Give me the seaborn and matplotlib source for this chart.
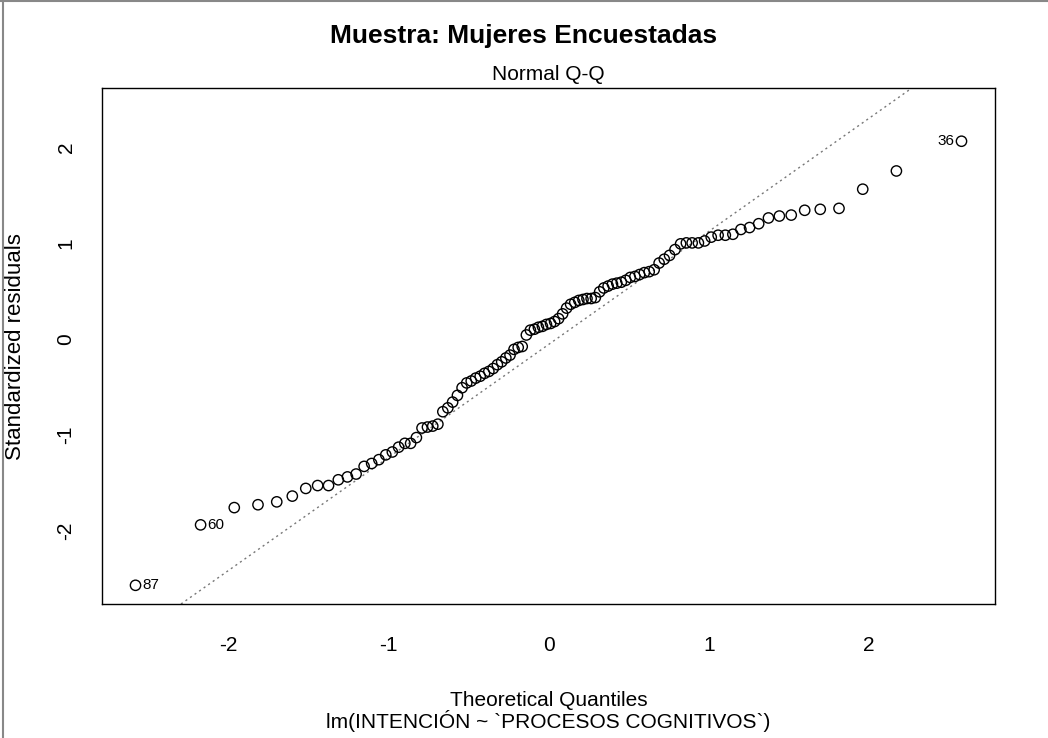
import matplotlib
matplotlib.use("Agg")
import matplotlib.pyplot as plt
import seaborn as sns
import pandas as pd
from matplotlib.lines import Line2D

# ---- data ----
theoretical_quantiles = [
    -2.576, -2.170, -1.960, -1.812, -1.695, -1.598, -1.514, -1.440, -1.372, -1.311,
    -1.254, -1.200, -1.150, -1.103, -1.058, -1.015, -0.974, -0.935, -0.896, -0.860,
    -0.824, -0.789, -0.755, -0.722, -0.690, -0.659, -0.628, -0.598, -0.568, -0.539,
    -0.510, -0.482, -0.454, -0.426, -0.399, -0.372, -0.345, -0.319, -0.292, -0.266,
    -0.240, -0.215, -0.189, -0.164, -0.138, -0.113, -0.088, -0.063, -0.038, -0.013,
    0.013, 0.038, 0.063, 0.088, 0.113, 0.138, 0.164, 0.189, 0.215, 0.240,
    0.266, 0.292, 0.319, 0.345, 0.372, 0.399, 0.426, 0.454, 0.482, 0.510,
    0.539, 0.568, 0.598, 0.628, 0.659, 0.690, 0.722, 0.755, 0.789, 0.824,
    0.860, 0.896, 0.935, 0.974, 1.015, 1.058, 1.103, 1.150, 1.200, 1.254,
    1.311, 1.372, 1.440, 1.514, 1.598, 1.695, 1.812, 1.960, 2.170, 2.576,
]
standardized_residuals = [
    -2.57, -1.94, -1.76, -1.73, -1.70, -1.64, -1.56, -1.53, -1.53, -1.47,
    -1.44, -1.41, -1.33, -1.30, -1.26, -1.21, -1.18, -1.13, -1.09, -1.09,
    -1.03, -0.93, -0.92, -0.91, -0.89, -0.76, -0.72, -0.66, -0.59, -0.51,
    -0.46, -0.44, -0.41, -0.39, -0.36, -0.34, -0.31, -0.27, -0.24, -0.20,
    -0.17, -0.11, -0.09, -0.08, 0.04, 0.09, 0.10, 0.12, 0.13, 0.15,
    0.16, 0.18, 0.21, 0.26, 0.32, 0.36, 0.38, 0.40, 0.41, 0.42,
    0.42, 0.43, 0.49, 0.53, 0.55, 0.57, 0.58, 0.59, 0.61, 0.64,
    0.65, 0.67, 0.69, 0.70, 0.72, 0.79, 0.83, 0.87, 0.93, 0.99,
    1.00, 1.00, 1.00, 1.02, 1.06, 1.08, 1.08, 1.09, 1.14, 1.16,
    1.20, 1.26, 1.28, 1.29, 1.34, 1.35, 1.36, 1.56, 1.75, 2.06,
]
labelled_index = [0, 1, 99]
labelled_names = ["87", "60", "36"]
line_intercept = -0.06
line_slope = 1.18
x_ticks = [-2, -1, 0, 1, 2]
y_ticks = [-2, -1, 0, 1, 2]

title_main = "Muestra: Mujeres Encuestadas"
title_sub = "Normal Q-Q"
x_label = "Theoretical Quantiles"
caption = "lm(INTENCIÓN ~ `PROCESOS COGNITIVOS`)"
y_label = "Standardized residuals"

df = pd.DataFrame({"theo": theoretical_quantiles, "resid": standardized_residuals})

sns.set_style("white")
plt.rcParams["font.family"] = ["Liberation Sans", "DejaVu Sans"]
plt.rcParams["text.color"] = "black"
plt.rcParams["axes.labelcolor"] = "black"

fig = plt.figure(figsize=(10.48, 7.38), dpi=100)
ax = fig.add_axes([102 / 1048, 1 - 604 / 738, (995 - 102) / 1048, (604 - 88) / 738])

sns.scatterplot(data=df, x="theo", y="resid", ax=ax, marker="o", s=55,
                facecolor="none", edgecolor="black", linewidth=1.0, zorder=3)
for c in ax.collections:
    c.set_facecolor("none")
    c.set_edgecolor("black")

ax.axline((0, line_intercept), slope=line_slope, color="#777777", lw=1.0,
          ls=(0, (1.5, 2.5)), zorder=2)

ax.set_xlim(-2.785, 2.785)
ax.set_ylim(-2.765, 2.615)
ax.set_xticks(x_ticks)
ax.set_yticks(y_ticks)
ax.set_xticklabels([str(t) for t in x_ticks], fontsize=15)
ax.set_yticklabels([str(t) for t in y_ticks], fontsize=15, rotation=90, va="center")
ax.tick_params(axis="both", direction="out", length=7, width=1, color="black",
               labelcolor="black")
ax.tick_params(axis="x", pad=16)
ax.tick_params(axis="y", pad=12)
for sp in ax.spines.values():
    sp.set_color("black")
    sp.set_linewidth(1.0)
    sp.set_visible(True)

ax.set_xlabel(x_label + "\n" + caption, fontsize=15, linespacing=1.0)
ax.xaxis.label.set_va("center")
ax.xaxis.set_label_coords(0.5, (604 - 711) / 516)
ax.set_ylabel(y_label, fontsize=16)
ax.yaxis.label.set_va("center")
ax.yaxis.set_label_coords((15 - 102) / 893, (604 - 347) / 516)

ax.set_title(title_sub, fontsize=15, pad=6, color="black")
fig.suptitle(title_main, fontsize=19, fontweight="bold", y=1 - 36 / 738,
             va="center", color="black")

for idx, name in zip(labelled_index, labelled_names):
    xv = theoretical_quantiles[idx]
    yv = standardized_residuals[idx]
    if xv < 0:
        ax.annotate(name, (xv, yv), xytext=(5, 0), textcoords="offset points",
                    ha="left", va="center", fontsize=11)
    else:
        ax.annotate(name, (xv, yv), xytext=(-5, 0), textcoords="offset points",
                    ha="right", va="center", fontsize=11)

# window border of the screenshot
fig.add_artist(Line2D([0, 1], [0.999, 0.999], transform=fig.transFigure,
                      color="#888888", lw=1.5))
fig.add_artist(Line2D([0.003, 0.003], [0, 1], transform=fig.transFigure,
                      color="#888888", lw=1.5))

fig.savefig("out.png", dpi=100)
